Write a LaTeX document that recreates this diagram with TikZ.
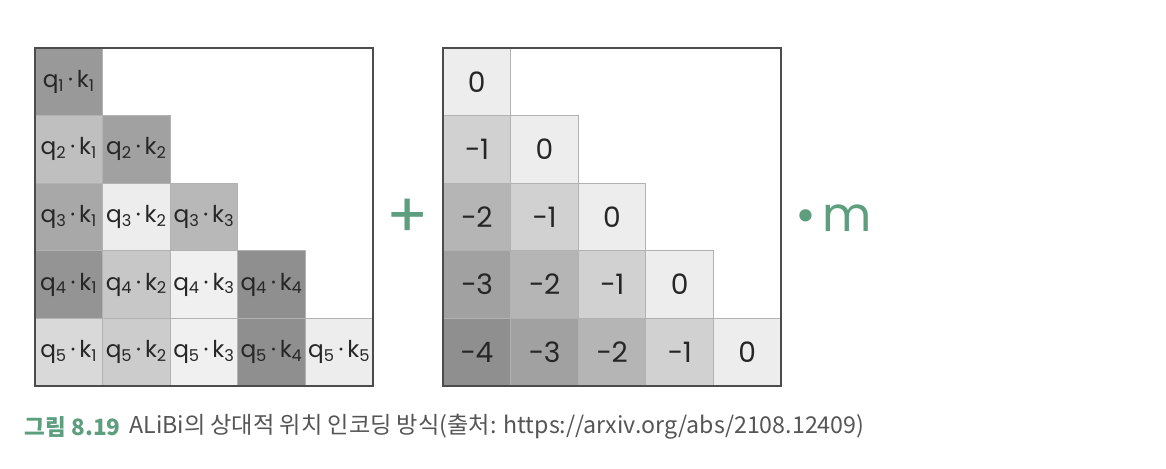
\documentclass[tikz,border=0pt]{standalone}
\usepackage{fontspec}
\usepackage{xcolor}
\usetikzlibrary{positioning}
\setmainfont{Poppins}
\newfontfamily\krfont{Noto Sans CJK KR}
\newfontfamily\symfont{DejaVu Sans}
\definecolor{alibigreen}{HTML}{5C9E7E}
\definecolor{captiongray}{HTML}{555555}

\begin{document}
\begin{tikzpicture}[
    x=0.025cm, y=-0.025cm,
    every node/.style={inner sep=0pt, outer sep=0pt},
    cell/.style={draw=black!30, line width=0.5pt, minimum size=1.69cm, text=black!85},
    qk/.style={cell, font=\fontsize{16.5}{16.5}\selectfont},
    bias/.style={cell, font=\fontsize{20}{20}\selectfont},
    frame/.style={draw=black!70, line width=1.1pt}
]
\useasboundingbox (0,0) rectangle (1166,468);

% Score matrix q.k (lower triangle)
\foreach \i/\j/\s in {1/1/40, 2/1/25, 2/2/37, 3/1/34, 3/2/7, 3/3/28,
    4/1/42, 4/2/22, 4/3/6, 4/4/44, 5/1/15, 5/2/20, 5/3/6, 5/4/44, 5/5/7}
  \node[qk, fill=black!\s] (L-\i-\j) at ({35+(\j-0.5)*67.6},{48+(\i-0.5)*67.6})
    {q\textsubscript{\i}\,·\,k\textsubscript{\j}};
\draw[frame] (L-1-1.north west) rectangle (L-5-5.south east);

% Plus sign
\node[text=alibigreen, font=\fontsize{44}{44}\selectfont] (plus) at (408,218) {+};

% Bias matrix: distance i-j
\foreach \i/\j/\s in {1/1/7, 2/1/18, 2/2/7, 3/1/29, 3/2/18, 3/3/7,
    4/1/37, 4/2/29, 4/3/18, 4/4/7, 5/1/44, 5/2/37, 5/3/29, 5/4/18, 5/5/7}
  \pgfmathtruncatemacro{\d}{\i-\j}
  \node[bias, fill=black!\s] (R-\i-\j) at ({443+(\j-0.5)*67.6},{48+(\i-0.5)*67.6})
    {\ifnum\d>0 −\d\else 0\fi};
\draw[frame] (R-1-1.north west) rectangle (R-5-5.south east);

% Slope m
\node[text=alibigreen, anchor=west] (slope) at (793,218)
  {{\symfont\fontsize{30}{30}\selectfont •}\hspace{3pt}{\fontsize{34}{34}\selectfont m}};

% Caption
\node[anchor=west, text=alibigreen, font=\krfont\bfseries\fontsize{16}{16}\selectfont] (capnum) at (25,427) {그림 8.19};
\node[right=0.22cm of capnum, text=captiongray, font=\krfont\fontsize{16.5}{16.5}\selectfont] (captext)
  {ALiBi의 상대적 위치 인코딩 방식(출처: https://arxiv.org/abs/2108.12409)};
\end{tikzpicture}
\end{document}
